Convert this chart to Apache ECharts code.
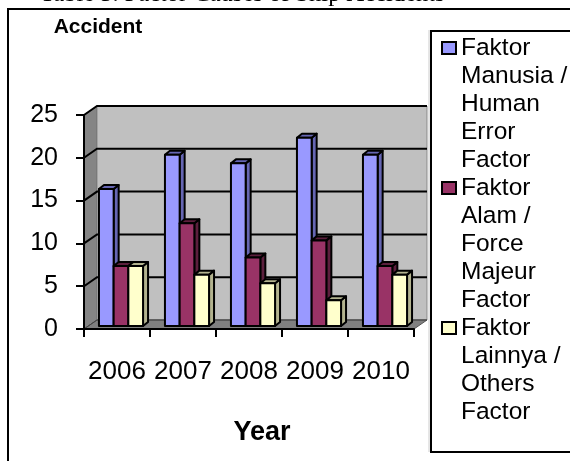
<!DOCTYPE html>
<html>
<head>
<meta charset="utf-8">
<style>
  html, body { margin: 0; padding: 0; background: #fff; }
  #chart { width: 570px; height: 461px; }
</style>
<script src="https://cdn.jsdelivr.net/npm/echarts@6/dist/echarts.min.js"></script>
</head>
<body>
<div id="chart"></div>
<script>
var years = ["2006", "2007", "2008", "2009", "2010"];
var humanError = [16, 20, 19, 22, 20];
var forceMajeur = [7, 12, 8, 10, 7];
var others = [7, 6, 5, 3, 6];
var yTicks = [0, 5, 10, 15, 20, 25];

var humanName = "Faktor\nManusia /\nHuman\nError\nFactor";
var majeurName = "Faktor\nAlam /\nForce\nMajeur\nFactor";
var othersName = "Faktor\nLainnya /\nOthers\nFactor";

var FONT = '"Liberation Sans", Arial, sans-serif';
var WALL_DX = 13, WALL_DY = -9;   // depth of the back wall
var BAR_DX = 4, BAR_DY = -3;      // bars stand a little behind the front edge
var BAR_W = 14.7, TOP_DX = 5, TOP_DY = -4;

function wallItem(params, api) {
  var v = api.value(0);
  var first = api.coord([0, v]);
  var left = first[0] - api.size([1, 0])[0] / 2;
  var right = left + api.size([1, 0])[0] * years.length;
  var y = first[1];
  var children = [];
  if (v === 0) {
    var top = api.coord([0, 25])[1];
    children.push({
      type: "polygon",
      shape: { points: [[left, top], [left + WALL_DX, top + WALL_DY], [left + WALL_DX, y + WALL_DY], [left, y]] },
      style: { fill: "#858585", stroke: "#555", lineWidth: 1 }
    });
    children.push({
      type: "polygon",
      shape: { points: [[left + WALL_DX, top + WALL_DY], [right + WALL_DX, top + WALL_DY], [right + WALL_DX, y + WALL_DY], [left + WALL_DX, y + WALL_DY]] },
      style: { fill: "#c0c0c0", stroke: "#888", lineWidth: 1 }
    });
    children.push({
      type: "polygon",
      shape: { points: [[left, y], [left + WALL_DX, y + WALL_DY], [right + WALL_DX, y + WALL_DY], [right, y]] },
      style: { fill: "#808080", stroke: "#555", lineWidth: 1 }
    });
  }
  children.push({
    type: "polyline",
    shape: { points: [[left, y], [left + WALL_DX, y + WALL_DY], [right + WALL_DX, y + WALL_DY]] },
    style: { fill: null, stroke: v === 0 ? "#444" : "#000", lineWidth: v === 0 ? 1 : 2 }
  });
  return { type: "group", children: children };
}

function barRender(slot, colors) {
  return function (params, api) {
    var p = api.coord([api.value(0), api.value(1)]);
    var base = api.coord([api.value(0), 0]);
    var x0 = p[0] + BAR_DX + (slot - 1.5) * BAR_W;
    var x1 = x0 + BAR_W;
    var yTop = p[1] + BAR_DY;
    var yBase = base[1] + BAR_DY;
    var edge = { stroke: "#000", lineWidth: 2, lineJoin: "round" };
    return {
      type: "group",
      children: [
        {
          type: "polygon",
          shape: { points: [[x1, yTop], [x1 + TOP_DX, yTop + TOP_DY], [x1 + TOP_DX, yBase + TOP_DY], [x1, yBase]] },
          style: Object.assign({ fill: colors[1] }, edge)
        },
        {
          type: "polygon",
          shape: { points: [[x0, yTop], [x0 + TOP_DX, yTop + TOP_DY], [x1 + TOP_DX, yTop + TOP_DY], [x1, yTop]] },
          style: Object.assign({ fill: colors[1] }, edge)
        },
        {
          type: "rect",
          shape: { x: x0, y: yTop, width: BAR_W, height: yBase - yTop },
          style: Object.assign({ fill: colors[0] }, edge)
        }
      ]
    };
  };
}

function barSeries(name, values, slot, colors) {
  return {
    name: name,
    type: "custom",
    coordinateSystem: "cartesian2d",
    clip: false,
    z: 3,
    itemStyle: { color: colors[0] },
    renderItem: barRender(slot, colors),
    encode: { x: 0, y: 1 },
    data: values.map(function (v, i) { return [i, v]; })
  };
}

var chart = echarts.init(document.getElementById("chart"), null, { renderer: "canvas" });

chart.setOption({
  animation: false,
  backgroundColor: "#fff",
  title: {
    text: "Table 5. Factor Causes of Ship Accidents",
    left: 40,
    top: -18,
    padding: 0,
    textStyle: { fontFamily: '"Liberation Serif", serif', fontWeight: "normal", fontSize: 24.5, color: "#000" }
  },
  grid: { left: 84, top: 115, width: 330, height: 214 },
  xAxis: {
    type: "category",
    data: years,
    name: "Year",
    nameLocation: "middle",
    nameGap: 90,
    nameTextStyle: { fontFamily: FONT, fontWeight: "bold", fontSize: 27, color: "#000", padding: [0, 0, 0, 26] },
    axisLine: { lineStyle: { color: "#000", width: 2 } },
    axisTick: { show: true, length: 8, alignWithLabel: false, lineStyle: { color: "#000", width: 2 } },
    axisLabel: { fontFamily: FONT, fontSize: 26, color: "#000", margin: 30, interval: 0 },
    z: 5
  },
  yAxis: {
    type: "value",
    min: 0,
    max: 25,
    interval: 5,
    name: "Accident",
    nameLocation: "end",
    nameGap: 77,
    nameTextStyle: { fontFamily: FONT, fontWeight: "bold", fontSize: 21, color: "#000", padding: [0, 0, 0, 28] },
    splitLine: { show: false },
    axisLine: { show: true, lineStyle: { color: "#000", width: 2 } },
    axisTick: { show: true, length: 8, lineStyle: { color: "#000", width: 2 } },
    axisLabel: { fontFamily: FONT, fontSize: 25, color: "#000", margin: 26, padding: [4, 0, 0, 0] },
    z: 5
  },
  legend: {
    orient: "vertical",
    left: 441,
    top: -78,
    padding: 0,
    itemGap: -112,
    itemWidth: 14,
    itemHeight: 12,
    icon: "rect",
    selectedMode: false,
    // blank lines keep the marker level with the first line of each entry
    formatter: function (name) {
      return "\n\n\n\n" + name + (name.split("\n").length < 5 ? "\n " : "");
    },
    textStyle: { fontFamily: FONT, fontSize: 24.5, lineHeight: 28, color: "#000" },
    itemStyle: { borderColor: "#000", borderWidth: 2 },
    data: [humanName, majeurName, othersName]
  },
  graphic: [
    {
      type: "rect",
      z: -10,
      shape: { x: 8, y: 9, width: 600, height: 500 },
      style: { fill: "#fff", stroke: "#000", lineWidth: 2 }
    },
    {
      type: "line",
      z: -9,
      shape: { x1: 429, y1: 30, x2: 429, y2: 452 },
      style: { stroke: "#ccc", lineWidth: 1 }
    },
    {
      type: "rect",
      z: -8,
      shape: { x: 431, y: 31, width: 200, height: 421 },
      style: { fill: "#fff", stroke: "#000", lineWidth: 2 }
    }
  ],
  series: [
    {
      name: "walls",
      type: "custom",
      coordinateSystem: "cartesian2d",
      clip: false,
      silent: true,
      z: 1,
      renderItem: wallItem,
      encode: { y: 0 },
      data: yTicks.map(function (t) { return [t]; })
    },
    barSeries(humanName, humanError, 0, ["#9999ff", "#6666b3"]),
    barSeries(majeurName, forceMajeur, 1, ["#993366", "#5c1f3d"]),
    barSeries(othersName, others, 2, ["#ffffcc", "#b3b38f"])
  ]
});
</script>
</body>
</html>
